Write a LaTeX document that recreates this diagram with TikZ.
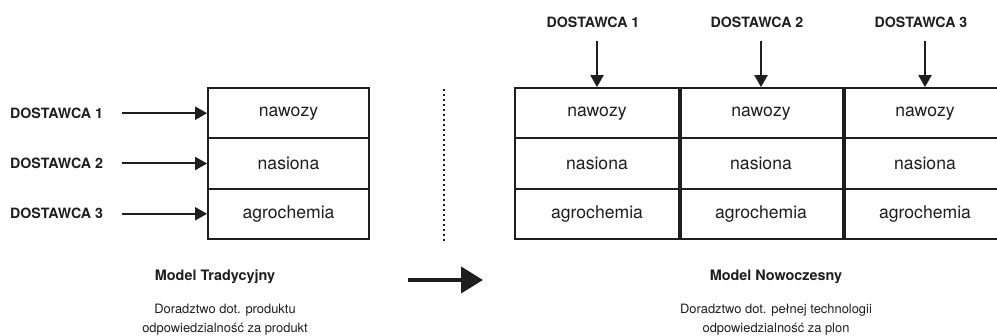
\documentclass[tikz,border=0pt]{standalone}
\usepackage{fontspec}
\setmainfont{TeX Gyre Heros}
\usetikzlibrary{arrows.meta}
\definecolor{ink}{HTML}{1E1E1E}
\tikzset{
  cellbox/.style={draw=ink, line width=1.8pt, minimum height=50.33pt, inner sep=0pt, text=ink, font=\fontsize{17.6}{20}\selectfont},
  lcell/.style={cellbox, minimum width=161pt},
  rcell/.style={cellbox, minimum width=164pt},
  divider/.style={draw=ink, line width=3.6pt},
  supplier/.style={text=ink, inner sep=0pt, font=\fontsize{14.2}{16}\bfseries\selectfont},
  feed/.style={draw=ink, line width=2pt, -{Triangle[length=12pt,width=13pt]}},
  title/.style={text=ink, inner sep=0pt, font=\fontsize{14.4}{16}\bfseries\selectfont},
  desc/.style={text=ink, inner sep=0pt, align=center, font=\fontsize{12.9}{18.5}\selectfont},
}
\begin{document}
\begin{tikzpicture}[x=1pt,y=-1pt]
\path[use as bounding box, fill=white] (0,0) rectangle (997,336);
\clip (0,0) rectangle (997,336);

% left table
\node[lcell] (l1) at (288.5,113.2) {nawozy};
\node[lcell] (l2) at (288.5,163.5) {nasiona};
\node[lcell] (l3) at (288.5,213.8) {agrochemia};

\node[supplier, anchor=west] (ls1) at (10,113.2) {DOSTAWCA 1};
\node[supplier, anchor=west] (ls2) at (10,163.5) {DOSTAWCA 2};
\node[supplier, anchor=west] (ls3) at (10,213.8) {DOSTAWCA 3};
\coordinate (la1) at (122,113.2);
\coordinate (la2) at (122,163.5);
\coordinate (la3) at (122,213.8);
\draw[feed] (la1) -- (l1.west);
\draw[feed] (la2) -- (l2.west);
\draw[feed] (la3) -- (l3.west);

% dotted separator
\coordinate (dt) at (444,89);
\coordinate (db) at (444,241);
\draw[ink, line width=2pt, dash pattern=on 2pt off 3pt] (dt) -- (db);

% right table
\foreach \c/\x in {1/597,2/761,3/925}{
  \node[rcell] (r1c\c) at (\x,113.2) {nawozy};
  \node[rcell] (r2c\c) at (\x,163.5) {nasiona};
  \node[rcell] (r3c\c) at (\x,213.8) {agrochemia};
}
\draw[divider] (r1c1.north east) -- (r3c1.south east);
\draw[divider] (r1c2.north east) -- (r3c2.south east);

\node[supplier] (ts1) at (593,22) {DOSTAWCA 1};
\node[supplier] (ts2) at (757,22) {DOSTAWCA 2};
\node[supplier] (ts3) at (921,22) {DOSTAWCA 3};
\coordinate (ta1) at (597,41);
\coordinate (ta2) at (761,41);
\coordinate (ta3) at (925,41);
\draw[feed] (ta1) -- (r1c1.north);
\draw[feed] (ta2) -- (r1c2.north);
\draw[feed] (ta3) -- (r1c3.north);

% big arrow
\coordinate (bl) at (408,280);
\coordinate (br) at (483,280);
\draw[ink, line width=4pt, -{Triangle[length=22pt,width=26pt]}] (bl) -- (br);

% captions
\node[title] (t1) at (215,277) {Model Tradycyjny};
\node[desc] (d1) at (225,319.5) {Doradztwo dot. produktu\\odpowiedzialność za produkt};
\node[title] (t2) at (776,277) {Model Nowoczesny};
\node[desc] (d2) at (776,319.5) {Doradztwo dot. pełnej technologii\\odpowiedzialność za plon};
\end{tikzpicture}
\end{document}
